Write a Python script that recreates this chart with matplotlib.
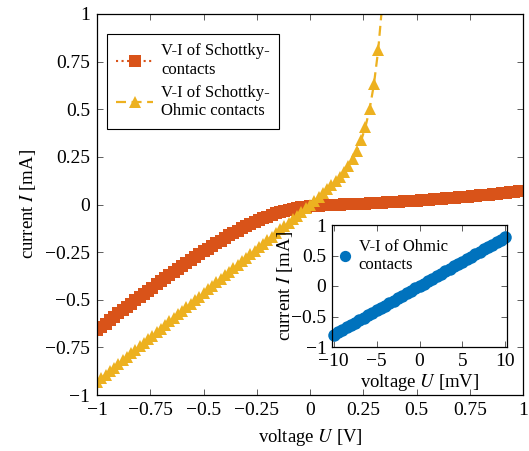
import matplotlib
matplotlib.use("Agg")
import matplotlib.pyplot as plt

plt.rcParams['font.family'] = ['Liberation Serif', 'DejaVu Serif']
plt.rcParams['mathtext.fontset'] = 'stix'
plt.rcParams['axes.unicode_minus'] = True

# ---- data ----
u_schottky = [-1.00, -0.98, -0.96, -0.94, -0.92, -0.90, -0.88, -0.86, -0.84, -0.82,
              -0.80, -0.78, -0.76, -0.74, -0.72, -0.70, -0.68, -0.66, -0.64, -0.62,
              -0.60, -0.58, -0.56, -0.54, -0.52, -0.50, -0.48, -0.46, -0.44, -0.42,
              -0.40, -0.38, -0.36, -0.34, -0.32, -0.30, -0.28, -0.26, -0.24, -0.22,
              -0.20, -0.18, -0.16, -0.14, -0.12, -0.10, -0.08, -0.06, -0.04, -0.02,
              0.00, 0.02, 0.04, 0.06, 0.08, 0.10, 0.12, 0.14, 0.16, 0.18,
              0.20, 0.22, 0.24, 0.26, 0.28, 0.30, 0.32, 0.34, 0.36, 0.38,
              0.40, 0.42, 0.44, 0.46, 0.48, 0.50, 0.52, 0.54, 0.56, 0.58,
              0.60, 0.62, 0.64, 0.66, 0.68, 0.70, 0.72, 0.74, 0.76, 0.78,
              0.80, 0.82, 0.84, 0.86, 0.88, 0.90, 0.92, 0.94, 0.96, 0.98, 1.00]
i_schottky = [-0.660, -0.642, -0.625, -0.607, -0.590, -0.572, -0.555, -0.538, -0.520, -0.503,
              -0.486, -0.469, -0.452, -0.436, -0.419, -0.402, -0.386, -0.370, -0.354, -0.338,
              -0.322, -0.306, -0.291, -0.276, -0.260, -0.245, -0.231, -0.216, -0.202, -0.189,
              -0.175, -0.162, -0.150, -0.137, -0.125, -0.113, -0.102, -0.092, -0.082, -0.072,
              -0.063, -0.055, -0.047, -0.040, -0.033, -0.027, -0.022, -0.018, -0.015, -0.012,
              -0.010, -0.008, -0.006, -0.0045, -0.003, -0.002, -0.0012, -0.0004, 0.0004, 0.0012,
              0.002, 0.003, 0.004, 0.005, 0.006, 0.007, 0.008, 0.009, 0.0105, 0.012,
              0.0135, 0.015, 0.016, 0.0175, 0.019, 0.0205, 0.022, 0.0235, 0.025, 0.027,
              0.0285, 0.030, 0.032, 0.034, 0.0355, 0.0375, 0.0395, 0.0415, 0.0435, 0.0455,
              0.0475, 0.0495, 0.052, 0.054, 0.056, 0.0585, 0.061, 0.0635, 0.066, 0.069, 0.072]

u_ohmic_schottky = [-1.00, -0.98, -0.96, -0.94, -0.92, -0.90, -0.88, -0.86, -0.84, -0.82,
                    -0.80, -0.78, -0.76, -0.74, -0.72, -0.70, -0.68, -0.66, -0.64, -0.62,
                    -0.60, -0.58, -0.56, -0.54, -0.52, -0.50, -0.48, -0.46, -0.44, -0.42,
                    -0.40, -0.38, -0.36, -0.34, -0.32, -0.30, -0.28, -0.26, -0.24, -0.22,
                    -0.20, -0.18, -0.16, -0.14, -0.12, -0.10, -0.08, -0.06, -0.04, -0.02,
                    0.00, 0.02, 0.04, 0.06, 0.08, 0.10, 0.12, 0.14, 0.16, 0.18,
                    0.20, 0.22, 0.24, 0.26, 0.28, 0.30, 0.32, 0.34, 0.36]
i_ohmic_schottky = [-0.930, -0.911, -0.893, -0.874, -0.856, -0.837, -0.818, -0.800, -0.781, -0.763,
                    -0.744, -0.725, -0.707, -0.688, -0.670, -0.651, -0.632, -0.614, -0.595, -0.577,
                    -0.558, -0.539, -0.521, -0.502, -0.484, -0.465, -0.446, -0.428, -0.409, -0.391,
                    -0.372, -0.353, -0.335, -0.316, -0.298, -0.279, -0.260, -0.242, -0.223, -0.205,
                    -0.186, -0.168, -0.149, -0.131, -0.113, -0.095, -0.076, -0.058, -0.039, -0.020,
                    -0.002, 0.019, 0.039, 0.058, 0.079, 0.100, 0.122, 0.146, 0.173, 0.203,
                    0.238, 0.282, 0.336, 0.406, 0.501, 0.630, 0.809, 1.062, 1.421]

u_ohmic = [-10.0, -9.5, -9.0, -8.5, -8.0, -7.5, -7.0, -6.5, -6.0, -5.5,
           -5.0, -4.5, -4.0, -3.5, -3.0, -2.5, -2.0, -1.5, -1.0, -0.5,
           0.0, 0.5, 1.0, 1.5, 2.0, 2.5, 3.0, 3.5, 4.0, 4.5,
           5.0, 5.5, 6.0, 6.5, 7.0, 7.5, 8.0, 8.5, 9.0, 9.5, 10.0]
i_ohmic = [-0.80, -0.76, -0.72, -0.68, -0.64, -0.60, -0.56, -0.52, -0.48, -0.44,
           -0.40, -0.36, -0.32, -0.28, -0.24, -0.20, -0.16, -0.12, -0.08, -0.04,
           0.00, 0.04, 0.08, 0.12, 0.16, 0.20, 0.24, 0.28, 0.32, 0.36,
           0.40, 0.44, 0.48, 0.52, 0.56, 0.60, 0.64, 0.68, 0.72, 0.76, 0.80]

main_ticks = [-1, -0.75, -0.5, -0.25, 0, 0.25, 0.5, 0.75, 1]
main_ticklabels = ['\u22121', '\u22120.75', '\u22120.5', '\u22120.25', '0', '0.25', '0.5', '0.75', '1']
inset_xticks = [-10, -5, 0, 5, 10]
inset_xticklabels = ['\u221210', '\u22125', '0', '5', '10']
inset_yticks = [-1, -0.5, 0, 0.5, 1]
inset_yticklabels = ['\u22121', '\u22120.5', '0', '0.5', '1']

c_orange = '#D95319'
c_yellow = '#EDB120'
c_blue = '#0072BD'
FS_TICK = 14
FS_LABEL = 13.5
FS_LEG = 12

W, H = 529, 451
fig = plt.figure(figsize=(W / 100, H / 100), dpi=100)

def box(l, t, r, b):
    return [l / W, 1 - b / H, (r - l) / W, (b - t) / H]

ax = fig.add_axes(box(97, 14, 523, 395))
ax.plot(u_schottky, i_schottky, linestyle=':', color=c_orange, lw=1.5,
        marker='s', markersize=8.2, markeredgewidth=0, markerfacecolor=c_orange,
        label='V-I of Schottky-\ncontacts')
ax.plot(u_ohmic_schottky, i_ohmic_schottky, linestyle=(0, (4.5, 2.5)), color=c_yellow, lw=1.6,
        marker='^', markersize=9, markeredgewidth=0, markerfacecolor=c_yellow,
        label='V-I of Schottky-\nOhmic contacts')
ax.set_xlim(-1, 1)
ax.set_ylim(-1, 1)
ax.set_xticks(main_ticks)
ax.set_xticklabels(main_ticklabels)
ax.set_yticks(main_ticks)
ax.set_yticklabels(main_ticklabels)
ax.tick_params(direction='in', top=True, right=True, length=4, width=0.6,
               labelsize=FS_TICK, pad=5, color='#444444')
for s in ax.spines.values():
    s.set_linewidth(0.9)
ax.set_xlabel('voltage $U$ [V]', fontsize=FS_LABEL)
ax.set_ylabel('current $I$ [mA]', fontsize=FS_LABEL)
ax.xaxis.set_label_coords(0.5, -0.085)
ax.yaxis.set_label_coords(-0.138, 0.5)
leg = ax.legend(loc='upper left', bbox_to_anchor=(10 / 426, 1 - 20 / 381),
                borderaxespad=0, fontsize=FS_LEG, frameon=True, fancybox=False,
                edgecolor='black', framealpha=1, handlelength=2.2,
                labelspacing=0.45, borderpad=0.55, handletextpad=0.5)
leg.get_frame().set_linewidth(0.8)

ins = fig.add_axes(box(332, 225, 507, 347))
ins.set_facecolor('white')
ins.plot(u_ohmic, i_ohmic, linestyle='none', marker='o', markersize=9,
         markeredgewidth=0, color=c_blue, label='V-I of Ohmic\ncontacts', clip_on=False)
ins.set_xlim(-10.2, 10.2)
ins.set_ylim(-1, 1)
ins.set_xticks(inset_xticks)
ins.set_xticklabels(inset_xticklabels)
ins.set_yticks(inset_yticks)
ins.set_yticklabels(inset_yticklabels)
ins.tick_params(direction='in', top=True, right=True, length=4, width=0.6,
                labelsize=FS_TICK, pad=4, color='#444444')
for s in ins.spines.values():
    s.set_linewidth(0.9)
ins.set_xlabel('voltage $U$ [mV]', fontsize=FS_LABEL)
ins.set_ylabel('current $I$ [mA]', fontsize=FS_LABEL)
ins.xaxis.set_label_coords(0.5, -0.205)
ins.yaxis.set_label_coords(-0.21, 0.5)
ins.legend(loc='upper left', bbox_to_anchor=(0.0, 0.94), borderaxespad=0,
           fontsize=FS_LEG, frameon=False, handlelength=0.7, handletextpad=0.5,
           markerscale=0.9)

fig.savefig('out.png', dpi=100)
